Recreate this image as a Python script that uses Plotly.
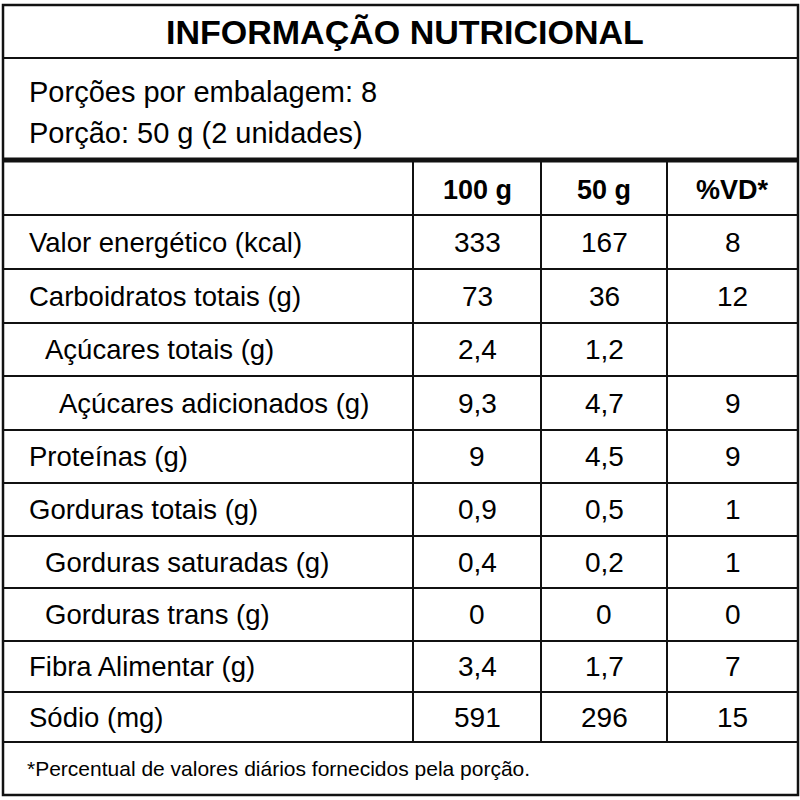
import plotly.graph_objects as go

# ---- data ----
title = "INFORMAÇÃO NUTRICIONAL"
info_lines = ["Porções por embalagem: 8", "Porção: 50 g (2 unidades)"]
col_headers = ["100 g", "50 g", "%VD*"]
nutrients = ["Valor energético (kcal)", "Carboidratos totais (g)", "Açúcares totais (g)",
             "Açúcares adicionados (g)", "Proteínas (g)", "Gorduras totais (g)",
             "Gorduras saturadas (g)", "Gorduras trans (g)", "Fibra Alimentar (g)", "Sódio (mg)"]
indent_level = [0, 0, 1, 2, 0, 0, 1, 1, 0, 0]
per_100g = ["333", "73", "2,4", "9,3", "9", "0,9", "0,4", "0", "3,4", "591"]
per_50g = ["167", "36", "1,2", "4,7", "4,5", "0,5", "0,2", "0", "1,7", "296"]
pct_vd = ["8", "12", "", "9", "9", "1", "1", "0", "7", "15"]
footnote = "*Percentual de valores diários fornecidos pela porção."

# ---- layout geometry ----
FONT = "Liberation Sans, Arial, Helvetica, sans-serif"
LEFT, RIGHT, TOP, BOTTOM = 3, 798, 5, 795
TITLE_BOTTOM = 58
INFO_BOTTOM = 160
HEADER_BOTTOM = 215
row_edges = [215, 269, 323, 376, 430, 483, 536, 588, 641, 692, 742]
col_edges = [413, 541, 667, RIGHT]
TEXT_X = 27
INDENT_PX = {0: 0, 1: 16, 2: 30}
LINE = "#111111"

fig = go.Figure()
shapes = []
ann = []

def hline(y, w=2):
    shapes.append(dict(type="line", x0=LEFT, x1=RIGHT, y0=y, y1=y,
                       line=dict(color=LINE, width=w), layer="above"))

# outer border
shapes.append(dict(type="rect", x0=LEFT, x1=RIGHT, y0=TOP, y1=BOTTOM,
                   line=dict(color=LINE, width=2.5)))
hline(TITLE_BOTTOM, 2)
hline(INFO_BOTTOM, 5)
for y in row_edges:
    hline(y, 2)
for x in col_edges[:-1]:
    shapes.append(dict(type="line", x0=x, x1=x, y0=INFO_BOTTOM, y1=row_edges[-1],
                       line=dict(color=LINE, width=2)))

# title
ann.append(dict(x=(LEFT + RIGHT) / 2 + 4, y=(TOP + TITLE_BOTTOM) / 2, text="<b>%s</b>" % title,
                xanchor="center", yanchor="middle",
                font=dict(family=FONT, size=34, color="#000")))
# info lines
info_y = [92, 133]
for t, y in zip(info_lines, info_y):
    ann.append(dict(x=TEXT_X, y=y, text=t, xanchor="left", yanchor="middle",
                    font=dict(family=FONT, size=29, color="#000")))

col_centers = [(col_edges[i] + col_edges[i + 1]) / 2 for i in range(3)]
# header
hy = (INFO_BOTTOM + HEADER_BOTTOM) / 2 + 2
for c, t in zip(col_centers, col_headers):
    ann.append(dict(x=c, y=hy, text="<b>%s</b>" % t, xanchor="center", yanchor="middle",
                    font=dict(family=FONT, size=27, color="#000")))

# rows
for i, name in enumerate(nutrients):
    yc = (row_edges[i] + row_edges[i + 1]) / 2
    ann.append(dict(x=TEXT_X + INDENT_PX[indent_level[i]], y=yc, text=name,
                    xanchor="left", yanchor="middle",
                    font=dict(family=FONT, size=27.5, color="#000")))
    for c, vals in zip(col_centers, [per_100g, per_50g, pct_vd]):
        if vals[i]:
            ann.append(dict(x=c, y=yc, text=vals[i], xanchor="center", yanchor="middle",
                            font=dict(family=FONT, size=28, color="#000")))

# footnote
ann.append(dict(x=TEXT_X - 2, y=(row_edges[-1] + BOTTOM) / 2, text=footnote,
                xanchor="left", yanchor="middle",
                font=dict(family=FONT, size=21, color="#000")))

for a in ann:
    a["showarrow"] = False
    a["xref"] = "x"
    a["yref"] = "y"

fig.update_layout(
    width=800, height=800,
    margin=dict(l=0, r=0, t=0, b=0),
    paper_bgcolor="white", plot_bgcolor="white",
    xaxis=dict(range=[0, 800], visible=False, fixedrange=True),
    yaxis=dict(range=[800, 0], visible=False, fixedrange=True),
    shapes=shapes, annotations=ann, showlegend=False,
)
fig.write_html("out.html", config={"displayModeBar": False},
               post_script="document.body.style.margin='0';document.body.style.overflow='hidden';")
